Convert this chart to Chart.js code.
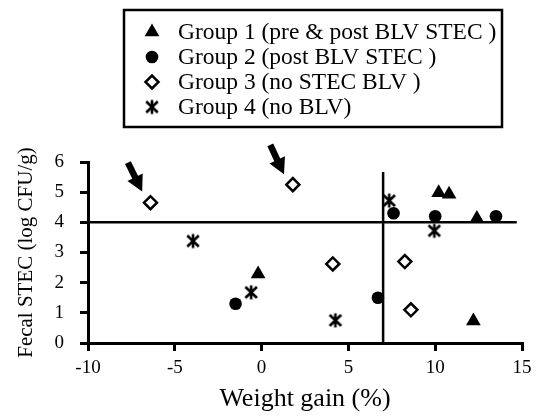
<!DOCTYPE html>
<html><head><meta charset="utf-8">
<script src="https://cdn.jsdelivr.net/npm/chart.js@4"></script>
<style>html,body{margin:0;padding:0;background:#fff}</style>
</head><body>
<canvas id="c" width="544" height="416"></canvas>
<script>
// ---- data ----
const seriesLabels = ['Group 1 (pre & post BLV STEC )', 'Group 2 (post BLV STEC )', 'Group 3 (no STEC BLV )', 'Group 4 (no BLV)'];
const group1X = [-0.2, 10.2, 10.8, 12.4, 12.2];
const group1Y = [2.29, 4.98, 4.93, 4.13, 0.73];
const group2X = [-1.5, 6.7, 7.6, 10.0, 13.5];
const group2Y = [1.3, 1.5, 4.3, 4.2, 4.2];
const group3X = [-6.4, 1.8, 4.1, 8.25, 8.6];
const group3Y = [4.65, 5.25, 2.62, 2.7, 1.1];
const group4X = [-3.95, -0.6, 4.25, 7.35, 9.95];
const group4Y = [3.38, 1.68, 0.75, 4.72, 3.72];
const xTicks = [-10, -5, 0, 5, 10, 15];
const yTicks = [0, 1, 2, 3, 4, 5, 6];
const refLineX = 7, refLineXTop = 5.67;
const refLineY = 4, refLineYEnd = 14.7;
const arrowTailX = [-7.7, 0.5];
const arrowTailY = [5.98, 6.57];
const arrowTipX = [-6.88, 1.29];
const arrowTipY = [5.02, 5.59];

const FONT = "'Liberation Serif', 'Times New Roman', serif";

function pts(xs, ys){ return xs.map((x,i)=>({x, y: ys[i]})); }

function makeStar(){
  const c = document.createElement('canvas'); c.width = 16; c.height = 17;
  const g = c.getContext('2d'); g.strokeStyle = '#000'; g.lineWidth = 2.6;
  g.beginPath();
  g.moveTo(8, 1.5); g.lineTo(8, 15.5);
  g.moveTo(2.2, 3); g.lineTo(13.8, 14);
  g.moveTo(13.8, 3); g.lineTo(2.2, 14);
  g.stroke();
  return c;
}
const starImg = makeStar();

const refPlugin = {
  id: 'refs',
  afterDatasetsDraw(chart){
    const {ctx, scales:{x, y}} = chart;
    ctx.save();
    ctx.strokeStyle = '#000'; ctx.lineWidth = 2.5;
    ctx.beginPath();
    ctx.moveTo(x.getPixelForValue(refLineX), y.getPixelForValue(0));
    ctx.lineTo(x.getPixelForValue(refLineX), y.getPixelForValue(refLineXTop));
    ctx.moveTo(x.getPixelForValue(-10), y.getPixelForValue(refLineY));
    ctx.lineTo(x.getPixelForValue(refLineYEnd), y.getPixelForValue(refLineY));
    ctx.stroke();
    // arrows
    ctx.fillStyle = '#000';
    for (let i = 0; i < arrowTailX.length; i++){
      const x0 = x.getPixelForValue(arrowTailX[i]), y0 = y.getPixelForValue(arrowTailY[i]);
      const x1 = x.getPixelForValue(arrowTipX[i]), y1 = y.getPixelForValue(arrowTipY[i]);
      const dx = x1-x0, dy = y1-y0, L = Math.hypot(dx,dy), ux = dx/L, uy = dy/L;
      const hl = 16, hw = 8.5;
      const bx = x1 - ux*hl, by = y1 - uy*hl;
      ctx.lineWidth = 6.5;
      ctx.beginPath(); ctx.moveTo(x0,y0); ctx.lineTo(bx+ux*3, by+uy*3); ctx.stroke();
      ctx.beginPath();
      ctx.moveTo(x1,y1);
      ctx.lineTo(bx - uy*hw, by + ux*hw);
      ctx.lineTo(bx + uy*hw, by - ux*hw);
      ctx.closePath(); ctx.fill();
    }
    ctx.restore();
  }
};

const legendPlugin = {
  id: 'boxLegend',
  afterDraw(chart){
    const ctx = chart.ctx;
    ctx.save();
    ctx.strokeStyle = '#000'; ctx.lineWidth = 2.5;
    ctx.strokeRect(124, 10, 378, 117);
    const rows = [32, 57, 82, 107];
    chart.data.datasets.forEach((ds, i) => {
      const yy = rows[i];
      ctx.fillStyle = ds.backgroundColor; ctx.strokeStyle = ds.borderColor; ctx.lineWidth = ds.borderWidth;
      Chart.helpers.drawPoint(ctx, {pointStyle: ds.pointStyle, radius: ds.pointRadius, rotation: 0, borderWidth: ds.borderWidth}, 152, yy);
      ctx.fillStyle = '#000';
      ctx.font = '23.5px ' + FONT;
      ctx.textBaseline = 'middle'; ctx.textAlign = 'left';
      ctx.fillText(ds.label, 178, yy + 1);
    });
    ctx.restore();
  }
};

new Chart(document.getElementById('c'), {
  type: 'scatter',
  data: {
    datasets: [
      {label: seriesLabels[0], data: pts(group1X, group1Y), pointStyle: 'triangle', pointRadius: 8.5, backgroundColor: '#000', borderColor: '#000', borderWidth: 0},
      {label: seriesLabels[1], data: pts(group2X, group2Y), pointStyle: 'circle', pointRadius: 6.3, backgroundColor: '#000', borderColor: '#000', borderWidth: 0},
      {label: seriesLabels[2], data: pts(group3X, group3Y), pointStyle: 'rectRot', pointRadius: 6.5, backgroundColor: '#fff', borderColor: '#000', borderWidth: 2.5},
      {label: seriesLabels[3], data: pts(group4X, group4Y), pointStyle: starImg, pointRadius: 7, backgroundColor: '#000', borderColor: '#000', borderWidth: 0}
    ]
  },
  options: {
    responsive: false,
    animation: false,
    events: [],
    layout: {padding: {top: 162, right: 22, bottom: 0, left: 0}},
    plugins: {legend: {display: false}, tooltip: {enabled: false}},
    scales: {
      x: {
        type: 'linear', min: -10, max: 15,
        afterBuildTicks: s => { s.ticks = xTicks.map(v => ({value: v})); },
        afterFit: s => { s.height = 73; },
        grid: {drawOnChartArea: false, drawTicks: true, tickLength: 8, color: '#000', lineWidth: 3},
        border: {color: '#000', width: 3},
        ticks: {color: '#000', font: {family: FONT, size: 19}, padding: 6, maxRotation: 0},
        title: {display: true, text: 'Weight gain (%)', color: '#000', font: {family: FONT, size: 26}, padding: {top: 0, bottom: 1}}
      },
      y: {
        type: 'linear', min: 0, max: 6,
        afterBuildTicks: s => { s.ticks = yTicks.map(v => ({value: v})); },
        afterFit: s => { s.width = 88; },
        grid: {drawOnChartArea: false, drawTicks: true, tickLength: 8, color: '#000', lineWidth: 3},
        border: {color: '#000', width: 3},
        ticks: {color: '#000', font: {family: FONT, size: 19}, padding: 16},
        title: {display: true, text: 'Fecal STEC (log CFU/g)', color: '#000', font: {family: FONT, size: 21}, padding: {top: 14, bottom: 0}}
      }
    }
  },
  plugins: [refPlugin, legendPlugin]
});
</script>
</body></html>
